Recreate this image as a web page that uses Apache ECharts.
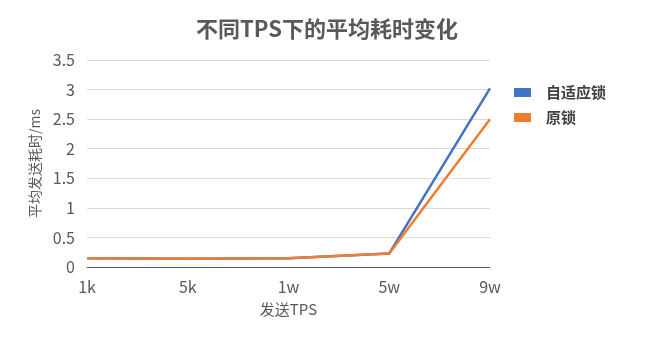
<!DOCTYPE html>
<html><head><meta charset="utf-8">
<script src="https://cdn.jsdelivr.net/npm/echarts@6/dist/echarts.min.js"></script>
<style>html,body{margin:0;padding:0;background:#fff}#c{width:654px;height:340px}</style>
</head><body><div id="c"></div>
<script>
const categories = ['1k','5k','1w','5w','9w'];
const adaptiveLock = [0.15, 0.14, 0.15, 0.23, 3.02];
const originalLock = [0.15, 0.14, 0.15, 0.23, 2.5];
const seriesNames = ['自适应锁','原锁'];
const FONT = '"Noto Sans CJK SC", "Noto Sans", sans-serif';
const chart = echarts.init(document.getElementById('c'), null, {renderer:'canvas'});
chart.setOption({
  animation:false,
  textStyle:{fontFamily:FONT},
  title:{text:'不同TPS下的平均耗时变化', left:'center', top:13,
    textStyle:{fontFamily:FONT, fontSize:22, fontWeight:'bold', color:'#595959'}},
  legend:{orient:'vertical', left:509, top:80, itemWidth:17, itemHeight:9, itemGap:10,
    icon:'rect', textStyle:{fontFamily:FONT, fontSize:15, fontWeight:'bold', color:'#404040', padding:[0,0,0,10]},
    data:seriesNames},
  grid:{left:87, right:164, top:60, bottom:73},
  xAxis:{type:'category', data:categories, boundaryGap:false,
    name:'发送TPS', nameLocation:'middle', nameGap:35,
    nameTextStyle:{fontFamily:FONT, fontSize:15, color:'#595959'},
    axisLine:{lineStyle:{color:'#595959', width:1}},
    axisTick:{show:false},
    axisLabel:{fontFamily:FONT, fontSize:16, color:'#595959', margin:12}},
  yAxis:{type:'value', min:0, max:3.5, interval:0.5,
    name:'平均发送耗时/ms', nameLocation:'middle', nameGap:42,
    nameTextStyle:{fontFamily:FONT, fontSize:14, color:'#595959'},
    axisLine:{show:false}, axisTick:{show:false},
    splitLine:{lineStyle:{color:'#d9d9d9'}},
    axisLabel:{fontFamily:FONT, fontSize:16, color:'#595959', margin:12}},
  series:[
    {name:seriesNames[0], type:'line', data:adaptiveLock, symbol:'none',
     lineStyle:{width:2.5, color:'#4472C4'}, itemStyle:{color:'#4472C4'}},
    {name:seriesNames[1], type:'line', data:originalLock, symbol:'none',
     lineStyle:{width:2.5, color:'#ED7D31'}, itemStyle:{color:'#ED7D31'}}
  ]
});
</script></body></html>
